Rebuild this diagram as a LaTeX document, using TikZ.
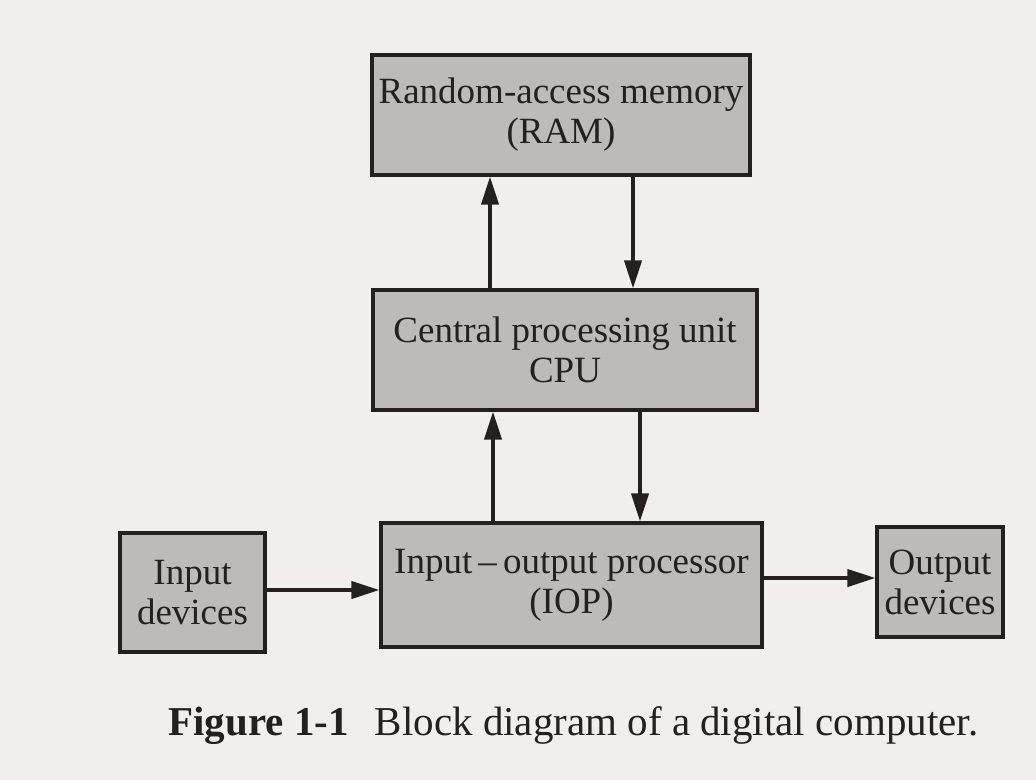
\documentclass[tikz,border=0pt]{standalone}
\usepackage{fontspec}
\setmainfont{Liberation Serif}
\usetikzlibrary{arrows.meta}
\definecolor{paper}{RGB}{241,239,237}
\definecolor{boxfill}{RGB}{190,186,186}
\definecolor{ink}{RGB}{36,32,32}
\tikzset{
  blk/.style={draw=ink, line width=3.2pt, fill=boxfill, align=center, inner sep=0pt,
    text=ink, font=\fontsize{37}{40}\selectfont},
  arr/.style={draw=ink, line width=4pt, -{Triangle[length=28pt,width=17pt]}}
}
\begin{document}
\begin{tikzpicture}[x=1pt,y=-1pt]
\fill[paper] (0,0) rectangle (1036,780);
\useasboundingbox (0,0) rectangle (1036,780);
\node[blk, minimum width=378pt, minimum height=120pt] (ram) at (561,115) {Random-access memory\\(RAM)};
\node[blk, minimum width=384pt, minimum height=120pt] (cpu) at (565,350) {Central processing unit\\CPU};
\node[blk, minimum width=381pt, minimum height=124pt] (iop) at (571.5,585) {Input\,--\,output processor\\(IOP)};
\node[blk, minimum width=145pt, minimum height=119pt] (in) at (192.5,592.5) {Input\\devices};
\node[blk, minimum width=126pt, minimum height=110pt] (out) at (940,582) {Output\\devices};
\coordinate (a1) at (490,0);
\coordinate (a2) at (633,0);
\coordinate (b1) at (493,0);
\coordinate (b2) at (640,0);
\coordinate (c1) at (0,590);
\coordinate (c2) at (0,578);
\draw[arr] (cpu.north -| a1) -- (ram.south -| a1);
\draw[arr] (ram.south -| a2) -- (cpu.north -| a2);
\draw[arr] (iop.north -| b1) -- (cpu.south -| b1);
\draw[arr] (cpu.south -| b2) -- (iop.north -| b2);
\draw[arr] (in.east |- c1) -- (iop.west |- c1);
\draw[arr] (iop.east |- c2) -- (out.west |- c2);
\node[anchor=base west, text=ink, font=\fontsize{41}{44}\selectfont] (cap) at (165,735)
  {\textbf{Figure 1-1}\hspace{26pt}Block diagram of a digital computer.};
\end{tikzpicture}
\end{document}
